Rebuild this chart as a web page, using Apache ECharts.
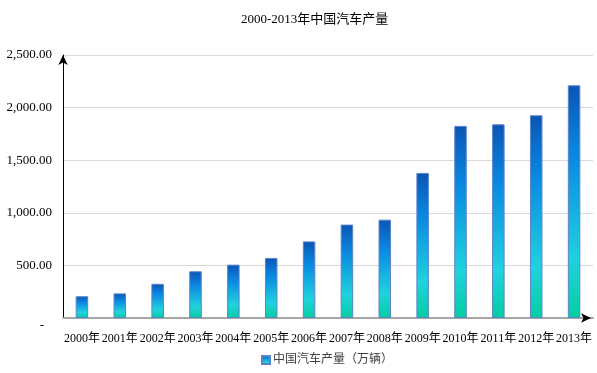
<!DOCTYPE html>
<html><head><meta charset="utf-8">
<script src="https://cdn.jsdelivr.net/npm/echarts@6/dist/echarts.min.js"></script>
<style>html,body{margin:0;padding:0;background:#fff}#c{width:597px;height:373px}</style>
</head><body><div id="c"></div>
<script>
const titleText = '2000-2013年中国汽车产量';
const seriesName = '中国汽车产量（万辆）';
const categories = ['2000年','2001年','2002年','2003年','2004年','2005年','2006年','2007年','2008年','2009年','2010年','2011年','2012年','2013年'];
const production = [207, 234, 325, 444, 507, 571, 728, 888, 935, 1379, 1826, 1841, 1927, 2212];
const yMin = 0, yMax = 2500, yStep = 500;

const FONT = '"Liberation Serif", "Noto Sans CJK SC", serif';
const chart = echarts.init(document.getElementById('c'), null, {renderer:'canvas'});
const fmt = v => v === 0 ? '{z|-}' : v.toLocaleString('en-US', {minimumFractionDigits:2, maximumFractionDigits:2});

chart.setOption({
  animation: false,
  backgroundColor: '#fff',
  title: {
    text: titleText, left: 236, top: 8,
    textStyle: {fontFamily: FONT, fontSize: 13, fontWeight: 'normal', color: '#000'}
  },
  legend: {
    data: [seriesName], left: 256, top: 349,
    icon: 'rect', itemWidth: 8, itemHeight: 8, itemGap: 4,
    textStyle: {fontFamily: FONT, fontSize: 12, color: '#404040', padding: [0,0,0,-2]}
  },
  grid: {left: 63, right: 4, top: 55, bottom: 55, containLabel: false},
  xAxis: [{
    type: 'category', data: categories, position: 'bottom',
    axisLine: {show: true, lineStyle: {color: '#a6a6a6', width: 2}},
    axisTick: {show: false},
    axisLabel: {interval: 0, margin: 15, fontFamily: FONT, fontSize: 12, color: '#000'}
  }, {
    type: 'category', data: categories, position: 'bottom',
    axisLine: {show: true, symbol: ['none','arrow'], symbolSize: [7,10], symbolOffset: [0,-2], lineStyle: {color: '#000', width: 0}},
    axisTick: {show: false}, axisLabel: {show: false}, splitLine: {show: false}
  }],
  yAxis: {
    type: 'value', min: yMin, max: yMax, interval: yStep,
    axisLine: {show: true, symbol: ['none','arrow'], symbolSize: [7,10], symbolOffset: [0,0], lineStyle: {color: '#000', width: 1}},
    axisTick: {show: false},
    splitLine: {lineStyle: {color: '#d9d9d9', width: 1}},
    axisLabel: {
      margin: 11, fontFamily: FONT, fontSize: 13, color: '#000',
      formatter: fmt,
      rich: {z: {fontFamily: FONT, fontSize: 13, color: '#000', padding: [16, 8, 0, 0]}}
    }
  },
  series: [{
    name: seriesName, type: 'bar', data: production, xAxisIndex: 0,
    barWidth: 12.5,
    itemStyle: {
      borderColor: '#5a84c8', borderWidth: 1,
      color: new echarts.graphic.LinearGradient(0, 0, 0, 1, [
        {offset: 0, color: '#0b55b4'},
        {offset: 0.3, color: '#0a88e2'},
        {offset: 0.75, color: '#20d2de'},
        {offset: 1, color: '#04cea0'}
      ])
    }
  }]
});
</script></body></html>
